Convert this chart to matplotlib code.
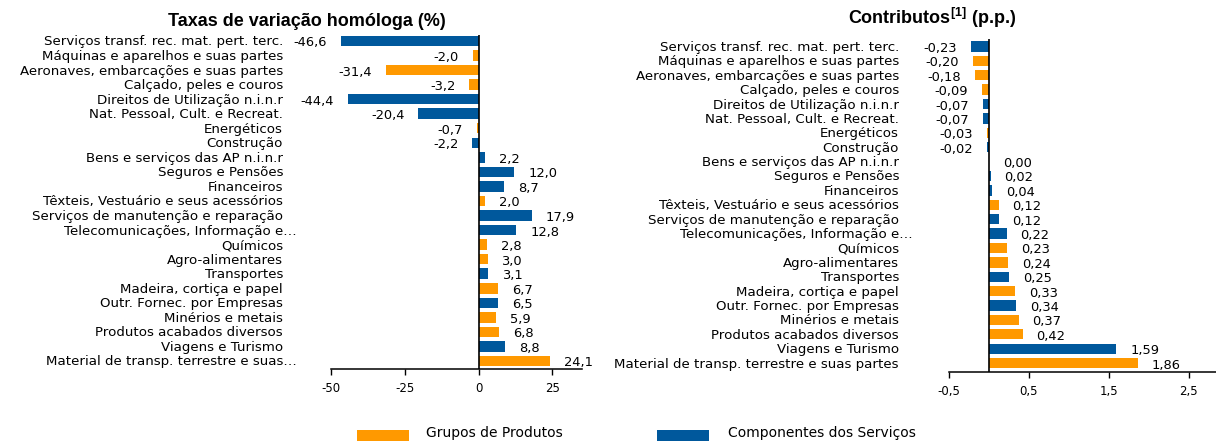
import matplotlib
matplotlib.use("Agg")
import matplotlib.pyplot as plt
from matplotlib.patches import Rectangle

plt.rcParams['font.family'] = 'DejaVu Sans'
plt.rcParams['mathtext.fontset'] = 'custom'
plt.rcParams['mathtext.rm'] = 'Liberation Sans'
plt.rcParams['mathtext.bf'] = 'Liberation Sans:bold'

# categorias (de cima para baixo) e tipo: P = Grupos de Produtos, S = Componentes dos Serviços
categorias_taxa = ['Serviços transf. rec. mat. pert. terc.', 'Máquinas e aparelhos e suas partes',
                   'Aeronaves, embarcações e suas partes', 'Calçado, peles e couros',
                   'Direitos de Utilização n.i.n.r', 'Nat. Pessoal, Cult. e Recreat.', 'Energéticos',
                   'Construção', 'Bens e serviços das AP n.i.n.r', 'Seguros e Pensões', 'Financeiros',
                   'Têxteis, Vestuário e seus acessórios', 'Serviços de manutenção e reparação',
                   'Telecomunicações, Informação e…', 'Químicos', 'Agro-alimentares', 'Transportes',
                   'Madeira, cortiça e papel', 'Outr. Fornec. por Empresas', 'Minérios e metais',
                   'Produtos acabados diversos', 'Viagens e Turismo', 'Material de transp. terrestre e suas…']
categorias_contrib = categorias_taxa[:-1] + ['Material de transp. terrestre e suas partes']
tipo = ['S', 'P', 'P', 'P', 'S', 'S', 'P', 'S', 'S', 'S', 'S', 'P', 'S', 'S', 'P', 'P', 'S',
        'P', 'S', 'P', 'P', 'S', 'P']
taxas = [-46.6, -2.0, -31.4, -3.2, -44.4, -20.4, -0.7, -2.2, 2.2, 12.0, 8.7, 2.0, 17.9, 12.8,
         2.8, 3.0, 3.1, 6.7, 6.5, 5.9, 6.8, 8.8, 24.1]
contributos = [-0.23, -0.20, -0.18, -0.09, -0.07, -0.07, -0.03, -0.02, 0.00, 0.02, 0.04, 0.12,
               0.12, 0.22, 0.23, 0.24, 0.25, 0.33, 0.34, 0.37, 0.42, 1.59, 1.86]
ticks_taxa = [-50, -25, 0, 25]
ticks_contrib = [-0.5, 0.5, 1.5, 2.5]

cores = {'P': '#FF9900', 'S': '#00589C'}
W, H = 1216, 441


def painel(ax, categorias, valores, decimais, ticks, xlim, ylim, pad_label):
    pos = list(range(len(categorias)))
    ax.barh(pos, valores, height=0.72, color=[cores[t] for t in tipo], zorder=2)
    ax.axvline(0, color='black', lw=1.2, zorder=3)
    ax.set_xlim(*xlim)
    ax.set_ylim(*ylim)
    ax.set_yticks([])
    ax.set_xticks(ticks)
    ax.set_xticklabels([f"{t:g}".replace('.', ',') for t in ticks], fontsize=8.5)
    ax.tick_params(axis='x', direction='out', length=4, width=1, pad=5.5, color='black')
    for s in ['top', 'right', 'left']:
        ax.spines[s].set_visible(False)
    ax.spines['bottom'].set_linewidth(1.1)
    for i, (cat, v) in enumerate(zip(categorias, valores)):
        dx = pad_label + (14 if cat.endswith('…') else 0)
        ax.annotate(cat, xy=(0, i), xycoords=('axes fraction', 'data'), xytext=(dx, -1),
                    textcoords='offset pixels', ha='right', va='center', fontsize=9.6)
        txt = f"{v:.{decimais}f}".replace('.', ',')
        off = 14 if v >= 0 else -14
        ax.annotate(txt, xy=(v, i), xytext=(off, -2), textcoords='offset pixels',
                    ha='left' if v >= 0 else 'right', va='center', fontsize=9.4)


fig = plt.figure(figsize=(W / 100, H / 100), dpi=100)
ax1 = fig.add_axes([331 / W, 1 - 369 / H, 251 / W, 334 / H])
ax2 = fig.add_axes([949 / W, 1 - 372 / H, 267 / W, 333 / H])

painel(ax1, categorias_taxa, taxas, 1, ticks_taxa, (-50, 35), (22.55, -0.41), -48)
painel(ax2, categorias_contrib, contributos, 2, ticks_contrib, (-0.5, 2.84), (22.62, -0.52), -50)

fig.text(307 / W, 1 - 21 / H, 'Taxas de variação homóloga (%)', ha='center', va='center',
         fontsize=13, fontweight='bold', family='Liberation Sans')
fig.text(932 / W, 1 - 18 / H, r'Contributos$^{\mathbf{[1]}}$ (p.p.)', ha='center', va='center',
         fontsize=13, fontweight='bold', family='Liberation Sans')

# legenda
for x0, x_txt, t, nome in [(357, 426, 'P', 'Grupos de Produtos'), (657, 728, 'S', 'Componentes dos Serviços')]:
    fig.add_artist(Rectangle((x0 / W, -3 / H), 52 / W, 14 / H, transform=fig.transFigure,
                             color=cores[t], lw=0))
    fig.text(x_txt / W, 1 - 433 / H, nome, ha='left', va='center', fontsize=10)

fig.savefig('out.png', dpi=100)
